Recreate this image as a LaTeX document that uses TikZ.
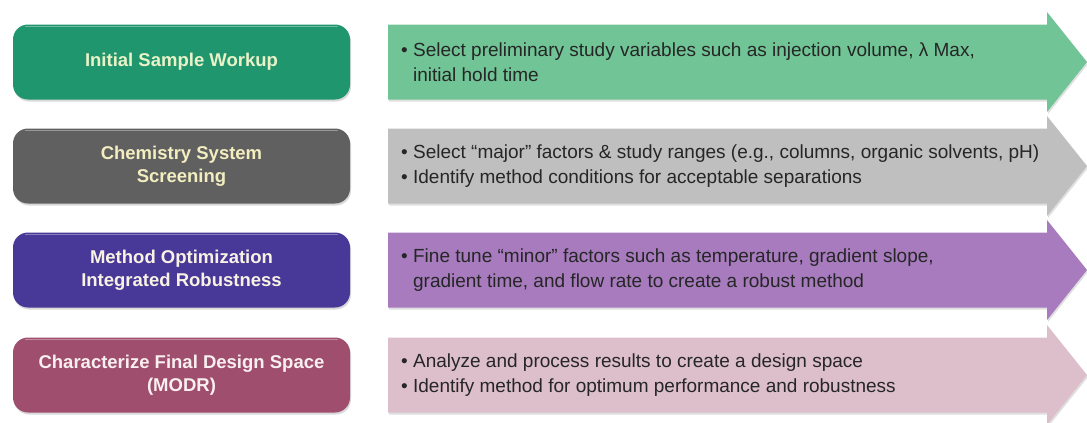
\documentclass[tikz,border=0pt]{standalone}
\usepackage{fontspec}
\setmainfont{Liberation Sans}
\usetikzlibrary{shadows}
\definecolor{stepgreen}{RGB}{32,150,110}
\definecolor{stepgray}{RGB}{96,96,96}
\definecolor{stepindigo}{RGB}{72,56,152}
\definecolor{stepmaroon}{RGB}{160,78,110}
\definecolor{arrowgreen}{RGB}{112,196,150}
\definecolor{arrowgray}{RGB}{191,191,191}
\definecolor{arrowpurple}{RGB}{167,123,190}
\definecolor{arrowpink}{RGB}{221,191,203}
\definecolor{textgray}{RGB}{38,38,38}
\tikzset{
  stagebox/.style={rounded corners=15pt,minimum width=337pt,minimum height=75pt,
    align=center,font=\bfseries\fontsize{18.5}{23}\selectfont,
    drop shadow={opacity=0.3,shadow xshift=1pt,shadow yshift=-2pt}},
  stagetext/.style={anchor=west,inner sep=0pt,align=left,text=textgray,
    font=\fontsize{19}{25}\selectfont},
  stagearrow/.pic={
	\fill[#1,drop shadow={opacity=0.25,shadow xshift=1pt,shadow yshift=-2pt}]
	  (0,-37.5)--(659,-37.5)--(659,-50)--(699,0)--(659,50)--(659,37.5)--(0,37.5)--cycle;
  }
	}

\begin{document}
\begin{tikzpicture}[x=1pt,y=-1pt]
%
\def\xb{181.5}
\def\xa{388}
\def\xt{401}
%
\useasboundingbox (0,0) rectangle (1087,423);
%
\pic at (\xa,62) {stagearrow=arrowgreen};
\pic at (\xa,166) {stagearrow=arrowgray};
\pic at (\xa,270) {stagearrow=arrowpurple};
\pic at (\xa,375) {stagearrow=arrowpink};
%
\node[stagebox,fill=stepgreen,text={rgb,255:red,234;green,242;blue,200}] (workup) at (\xb,62) {Initial Sample Workup};
\node[stagebox,fill=stepgray,text={rgb,255:red,242;green,238;blue,192}] (screening) at (\xb,166) {Chemistry System\\Screening};
\node[stagebox,fill=stepindigo,text={rgb,255:red,248;green,242;blue,228}] (optim) at (\xb,270) {Method Optimization\\Integrated Robustness};
\node[stagebox,fill=stepmaroon,text={rgb,255:red,248;green,240;blue,240}] (modr) at (\xb,375) {Characterize Final Design Space\\(MODR)};
%
\draw[white,opacity=0.35,line width=1.2pt] ([xshift=12pt,yshift=-2pt]workup.north west)--([xshift=-12pt,yshift=-2pt]workup.north east);
\draw[white,opacity=0.35,line width=1.2pt] ([xshift=12pt,yshift=-2pt]screening.north west)--([xshift=-12pt,yshift=-2pt]screening.north east);
\draw[white,opacity=0.35,line width=1.2pt] ([xshift=12pt,yshift=-2pt]optim.north west)--([xshift=-12pt,yshift=-2pt]optim.north east);
\draw[white,opacity=0.35,line width=1.2pt] ([xshift=12pt,yshift=-2pt]modr.north west)--([xshift=-12pt,yshift=-2pt]modr.north east);
%
\node[stagetext] (vars) at (\xt,62) {\textbullet\ Select preliminary study variables such as injection volume, λ Max,\\\phantom{\textbullet\ }initial hold time};
\node[stagetext] (ranges) at (\xt,166) {\textbullet\ Select “major” factors \& study ranges (e.g., columns, organic solvents, pH)\\\textbullet\ Identify method conditions for acceptable separations};
\node[stagetext] (tune) at (\xt,270) {\textbullet\ Fine tune “minor” factors such as temperature, gradient slope,\\\phantom{\textbullet\ }gradient time, and flow rate to create a robust method};
\node[stagetext] (space) at (\xt,375) {\textbullet\ Analyze and process results to create a design space\\\textbullet\ Identify method for optimum performance and robustness};
%
\end{tikzpicture}
\end{document}
